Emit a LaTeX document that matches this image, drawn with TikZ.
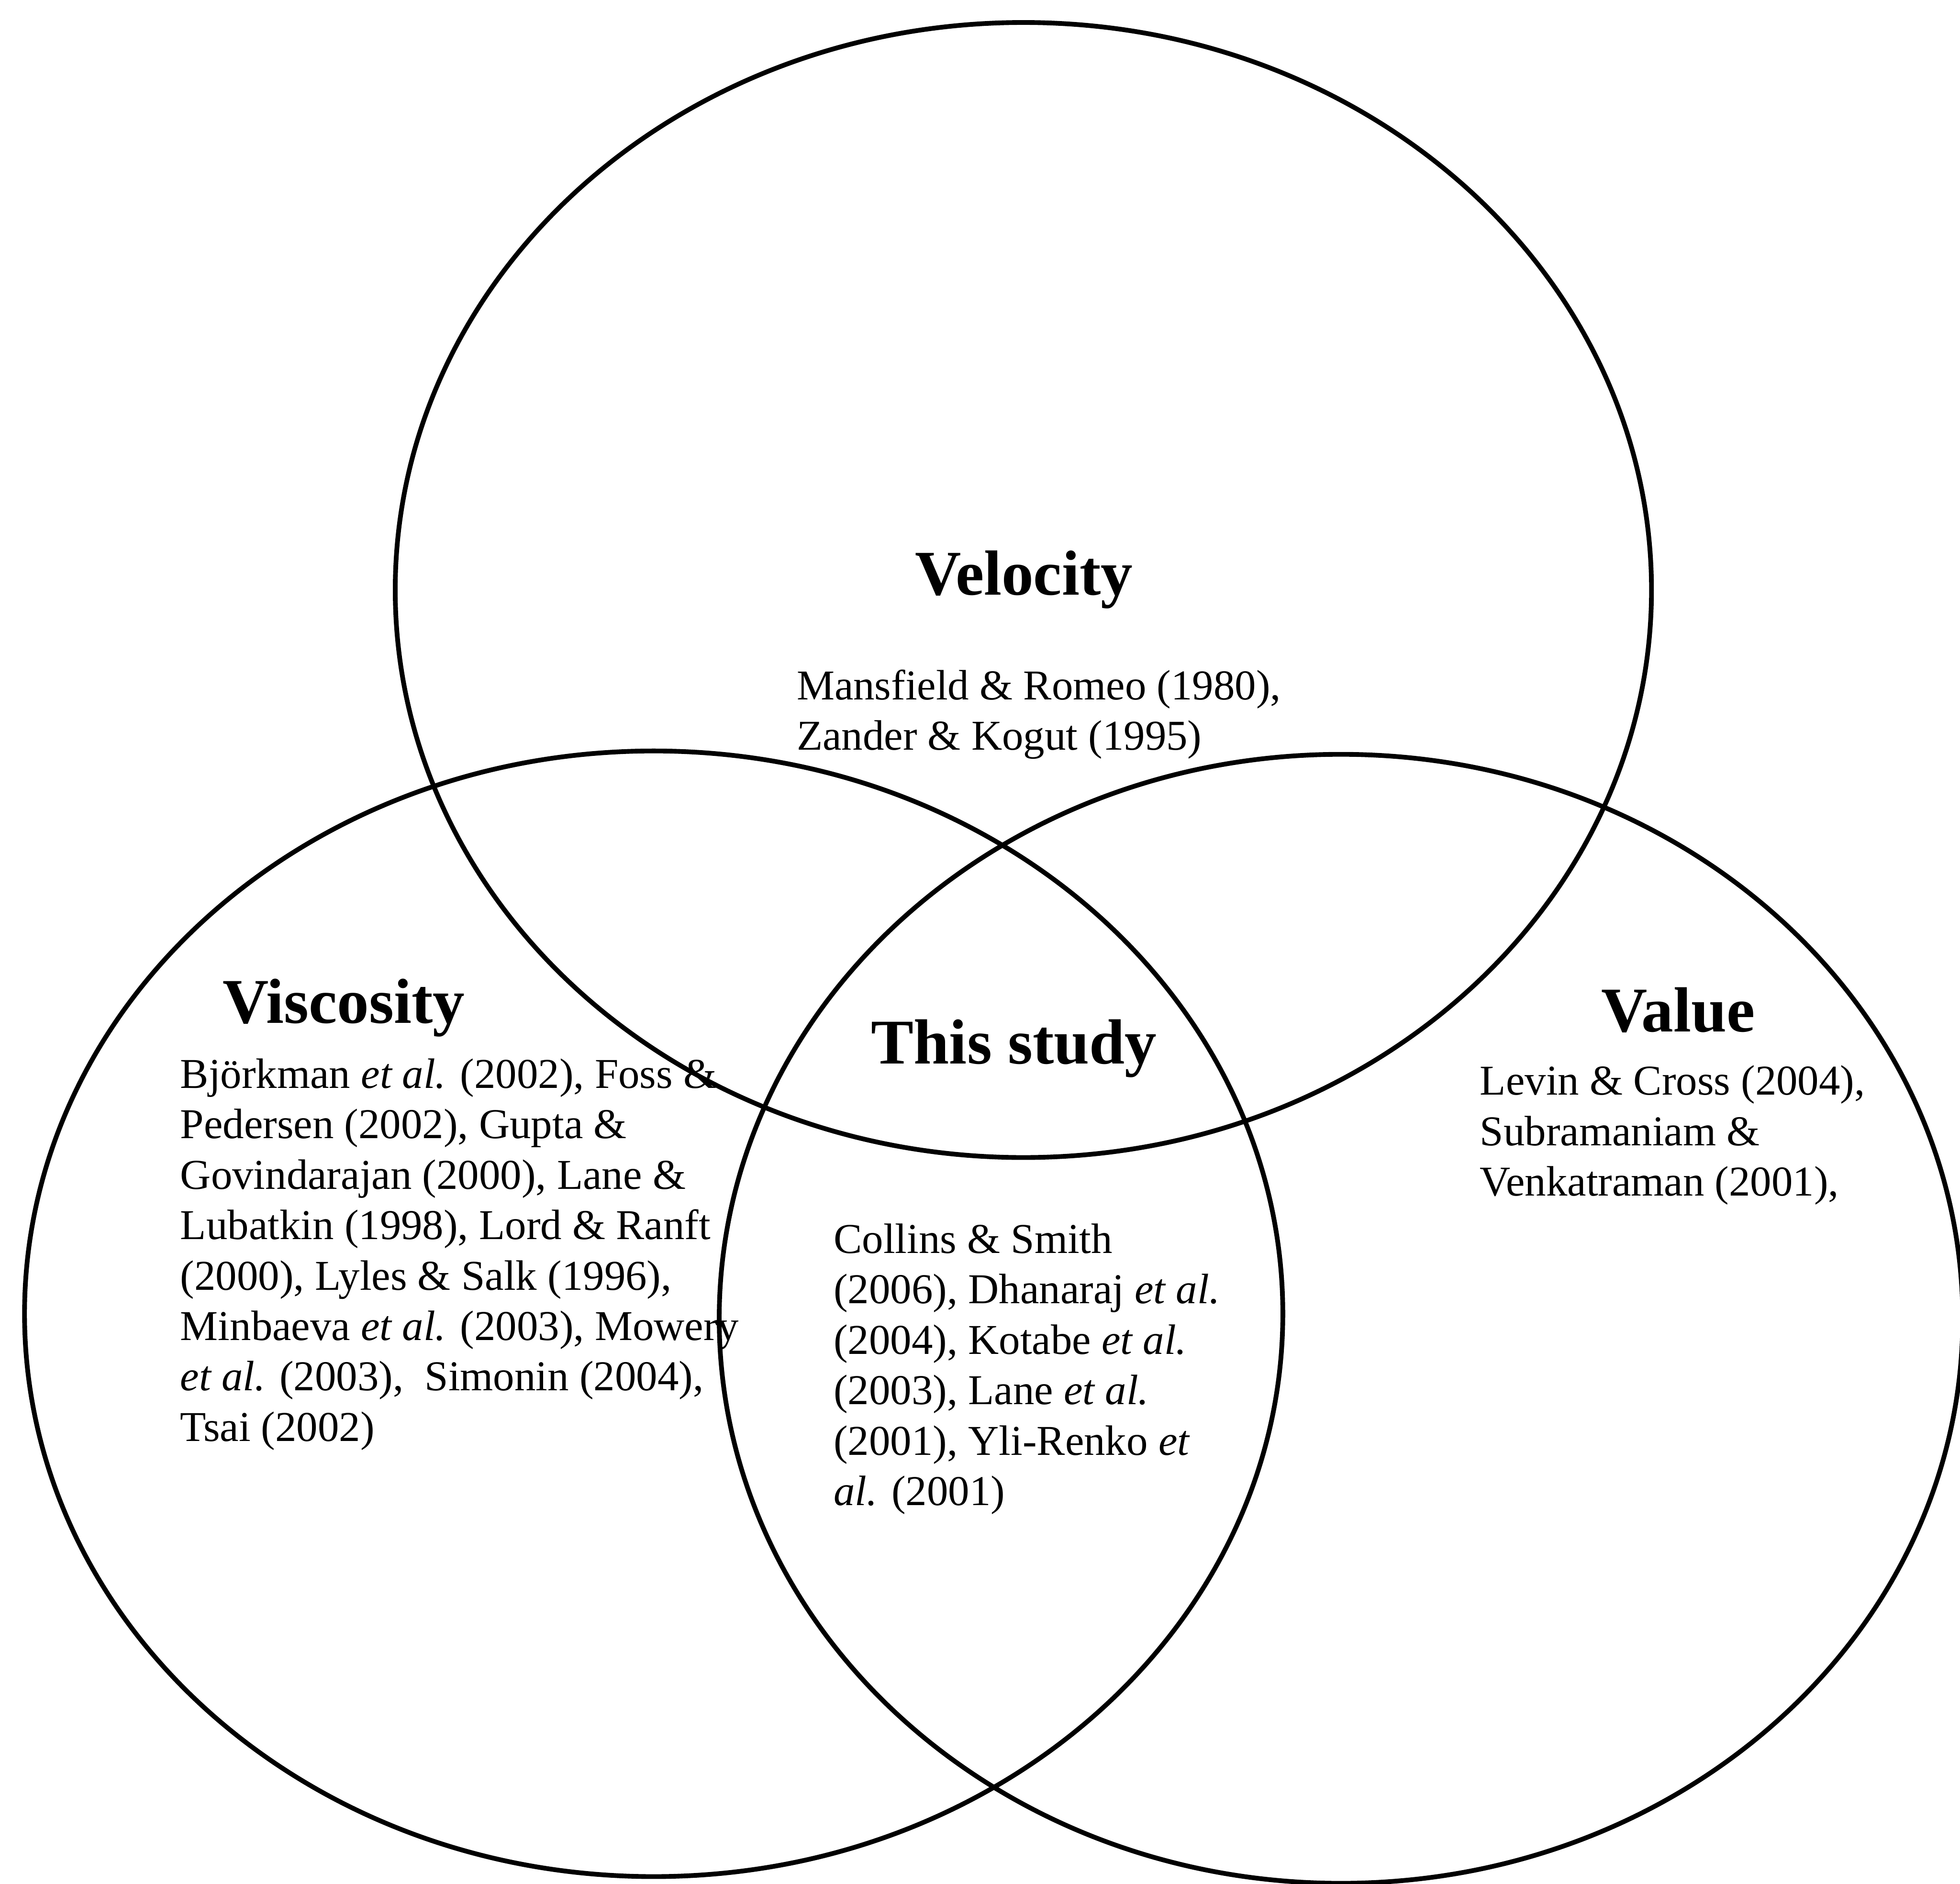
\documentclass[tikz,border=0pt]{standalone}
\usepackage{fontspec}
\setmainfont{Liberation Serif}
\begin{document}
\begin{tikzpicture}[
  x=1cm, y=1cm,
  ring/.style={draw=black, line width=4pt},
  heading/.style={anchor=base west, inner sep=0pt, font=\fontsize{54}{62}\selectfont\bfseries},
  % a multi-line node sits on the baseline of its last line
  refs/.style={anchor=base west, inner sep=0pt, align=left, font=\fontsize{36}{42.7}\selectfont},
]
\useasboundingbox (0,0) rectangle (58.32,56.06);

% the three overlapping sets
\draw[ring] (30.45,38.50) ellipse [x radius=18.69, y radius=16.89]; % velocity
\draw[ring] (19.45,16.96) ellipse [x radius=18.72, y radius=16.75]; % viscosity
\draw[ring] (39.90,16.81) ellipse [x radius=18.50, y radius=16.80]; % value

% velocity
\node[heading] (velocity) at (27.23,38.36) {Velocity};
\node[refs] (velrefs) at (23.70,33.74) {Mansfield \& Romeo (1980),\\Zander \& Kogut (1995)};

% viscosity
\node[heading] (viscosity) at (6.62,25.61) {Viscosity};
\node[refs] (viscrefs) at (5.36,13.17) {Björkman \textit{et al.} (2002), Foss \&\\
Pedersen (2002), Gupta \&\\
Govindarajan (2000), Lane \&\\
Lubatkin (1998), Lord \& Ranft\\
(2000), Lyles \& Salk (1996),\\
Minbaeva \textit{et al.} (2003), Mowery\\
\textit{et al.} (2003), \ Simonin (2004),\\
Tsai (2002)};

% centre
\node[heading] (study) at (25.92,24.40) {This study};
\node[refs] (studyrefs) at (24.80,11.26) {Collins \& Smith\\
(2006), Dhanaraj \textit{et al.}\\
(2004), Kotabe \textit{et al.}\\
(2003), Lane \textit{et al.}\\
(2001), Yli-Renko \textit{et}\\
\textit{al.} (2001)};

% value
\node[heading] (value) at (47.64,25.36) {Value};
\node[refs] (valrefs) at (44.03,20.47) {Levin \& Cross (2004),\\
Subramaniam \&\\
Venkatraman (2001),};
\end{tikzpicture}
\end{document}
